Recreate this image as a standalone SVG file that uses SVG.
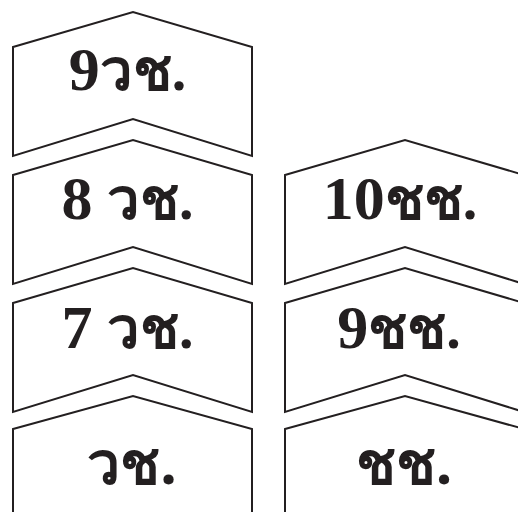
<svg xmlns="http://www.w3.org/2000/svg" width="518" height="512" viewBox="0 0 518 512">
<defs>
<style>
.s{fill:#fff;stroke:#231f20;stroke-width:2;stroke-linejoin:miter}
.t{font-family:"Liberation Serif","DejaVu Serif",serif;font-weight:bold;font-size:58px;fill:#231f20;text-anchor:middle}
.d{font-size:62px}
.u{font-family:"Noto Sans","DejaVu Sans",sans-serif;font-weight:bold;font-size:59px;fill:#231f20;text-anchor:middle}
</style>
<path id="chev" d="M0,35 L120,0 L239,35 L239,144 L120,107 L0,144 Z"/>
<path id="chevB" d="M0,33 L120,0 L239,33 L239,160 L120,130 L0,160 Z"/>
</defs>
<rect width="518" height="512" fill="#fff"/>
<g id="n1"><use href="#chev" class="s" x="13" y="12"/><text class="t" x="127.5" y="90"><tspan class="d">9</tspan>วช.</text></g>
<g id="n2"><use href="#chev" class="s" x="13" y="140"/><text class="t" x="127.5" y="219"><tspan class="d">8</tspan> วช.</text></g>
<g id="n3"><use href="#chev" class="s" x="13" y="268"/><text class="t" x="127.5" y="348"><tspan class="d">7</tspan> วช.</text></g>
<g id="n4"><use href="#chevB" class="s" x="13" y="396"/><text class="u" x="132" y="484">วช.</text></g>
<g id="n5"><use href="#chev" class="s" x="285" y="140"/><text class="t" x="400" y="219"><tspan class="d">10</tspan>ชช.</text></g>
<g id="n6"><use href="#chev" class="s" x="285" y="268"/><text class="t" x="399" y="348"><tspan class="d">9</tspan>ชช.</text></g>
<g id="n7"><use href="#chevB" class="s" x="285" y="396"/><text class="u" x="404" y="484">ชช.</text></g>
<g id="connectors"/>
</svg>
